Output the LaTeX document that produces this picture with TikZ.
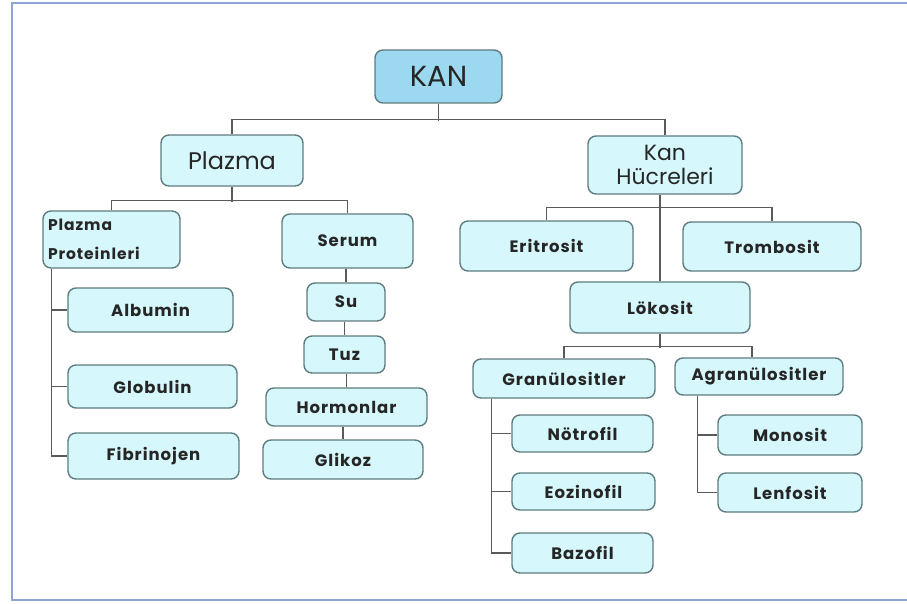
\documentclass[tikz,border=0pt]{standalone}
\usepackage{fontspec}
\setmainfont{Poppins}
\newfontfamily\boxfont[LetterSpace=6]{Poppins}
\usepackage{tikz}

\definecolor{boxfill}{HTML}{D6F7FB}
\definecolor{topfill}{HTML}{9CD8F0}
\definecolor{boxline}{HTML}{5F7D80}
\definecolor{wire}{HTML}{5A5A5A}
\definecolor{framecol}{HTML}{8EA4D4}

\begin{document}
\begin{tikzpicture}[x=1pt, y=-1pt,
    box/.style={draw=boxline, line width=1.4pt, fill=boxfill, rounded corners=8pt,
        inner sep=0pt, text=black!85, font=\boxfont\fontsize{16.5}{19}\selectfont\bfseries},
    wires/.style={draw=wire, line width=1.4pt}]
    \useasboundingbox (0,0) rectangle (907,604);
    \fill[white] (0,0) rectangle (907,604);
    \draw[framecol, line width=2.5pt] (930,3) -- (12,3) -- (12,600) -- (930,600);

    % top
    \node[box, fill=topfill, minimum width=127pt, minimum height=53pt,
        font=\fontsize{29}{32}\selectfont] (kan) at (438.5,76.5) {KAN};
    \node[box, minimum width=142pt, minimum height=51pt,
        font=\fontsize{24}{26}\selectfont] (plazma) at (232,160.5) {Plazma};
    \node[box, minimum width=154pt, minimum height=58pt, align=center,
        font=\fontsize{22}{24}\selectfont] (kanhuc) at (665,165) {Kan\\Hücreleri};

    % plazma side
    \node[box, minimum width=137pt, minimum height=57pt, align=left,
        text width=127pt, font=\boxfont\fontsize{15.5}{29}\selectfont\bfseries] (proteinler) at (111.5,239.5) {Plazma\\Proteinleri};
    \node[box, minimum width=131pt, minimum height=54pt] (serum) at (347.5,241) {Serum};
    \node[box, minimum width=78pt, minimum height=38pt] (su) at (346,302) {Su};
    \node[box, minimum width=81pt, minimum height=37pt] (tuz) at (344.5,354.5) {Tuz};
    \node[box, minimum width=161pt, minimum height=38pt] (hormon) at (346.5,407) {Hormonlar};
    \node[box, minimum width=160pt, minimum height=39pt] (glikoz) at (343,459.5) {Glikoz};
    \node[box, minimum width=165pt, minimum height=44pt] (albumin) at (150.5,310) {Albumin};
    \node[box, minimum width=169pt, minimum height=43pt] (globulin) at (152.5,386.5) {Globulin};
    \node[box, minimum width=171pt, minimum height=46pt] (fibrin) at (153.5,456) {Fibrinojen};

    % kan hucreleri side
    \node[box, minimum width=173pt, minimum height=50pt] (eritro) at (546.5,246) {Eritrosit};
    \node[box, minimum width=178pt, minimum height=49pt] (trombo) at (772,246.5) {Trombosit};
    \node[box, minimum width=180pt, minimum height=51pt] (lokosit) at (660,307.5) {Lökosit};
    \node[box, minimum width=182pt, minimum height=39pt] (granul) at (564,378.5) {Granülositler};
    \node[box, minimum width=168pt, minimum height=37pt] (agranul) at (759,376.5) {Agranülositler};
    \node[box, minimum width=141pt, minimum height=37pt] (notro) at (582.5,433.5) {Nötrofil};
    \node[box, minimum width=143pt, minimum height=37pt] (eozino) at (583.5,491.5) {Eozinofil};
    \node[box, minimum width=141pt, minimum height=40pt] (bazo) at (582.5,553) {Bazofil};
    \node[box, minimum width=144pt, minimum height=40pt] (mono) at (790,435) {Monosit};
    \node[box, minimum width=144pt, minimum height=39pt] (lenfo) at (790,492.5) {Lenfosit};

    % connectors
    \draw[wires] (plazma.north) -- ++(0,-15) -| (kanhuc.north);
    \draw[wires] (kan.south) -- ++(0,17);
    \draw[wires] (proteinler.north) -- ++(0,-10) -| (serum.north);
    \draw[wires] (plazma.south) -- ++(0,15);
    \draw[wires] (serum.south -| su.north) -- (su.north);
    \draw[wires] (su.south -| tuz.north) -- (tuz.north);
    \draw[wires] (tuz.south -| hormon.north) -- (hormon.north);
    \draw[wires] (hormon.south -| glikoz.north) -- (glikoz.north);
    \coordinate (pbus) at ([xshift=9pt]proteinler.south west);
    \draw[wires] (pbus) |- (albumin.west);
    \draw[wires] (pbus) |- (globulin.west);
    \draw[wires] (pbus) |- (fibrin.west);

    \draw[wires] (eritro.north) -- ++(0,-13) -| (trombo.north);
    \draw[wires] (kanhuc.south -| lokosit.north) -- (lokosit.north);
    \draw[wires] (granul.north) -- ++(0,-12) -| ([xshift=-7pt]agranul.north);
    \draw[wires] (lokosit.south) -- ++(0,14);
    \coordinate (gbus) at ([xshift=19pt]granul.south west);
    \draw[wires] (gbus) |- (notro.west);
    \draw[wires] (gbus) |- (eozino.west);
    \draw[wires] (gbus) |- (bazo.west);
    \coordinate (abus) at ([xshift=23pt]agranul.south west);
    \draw[wires] (abus) |- (mono.west);
    \draw[wires] (abus) |- (lenfo.west);
\end{tikzpicture}
\end{document}
